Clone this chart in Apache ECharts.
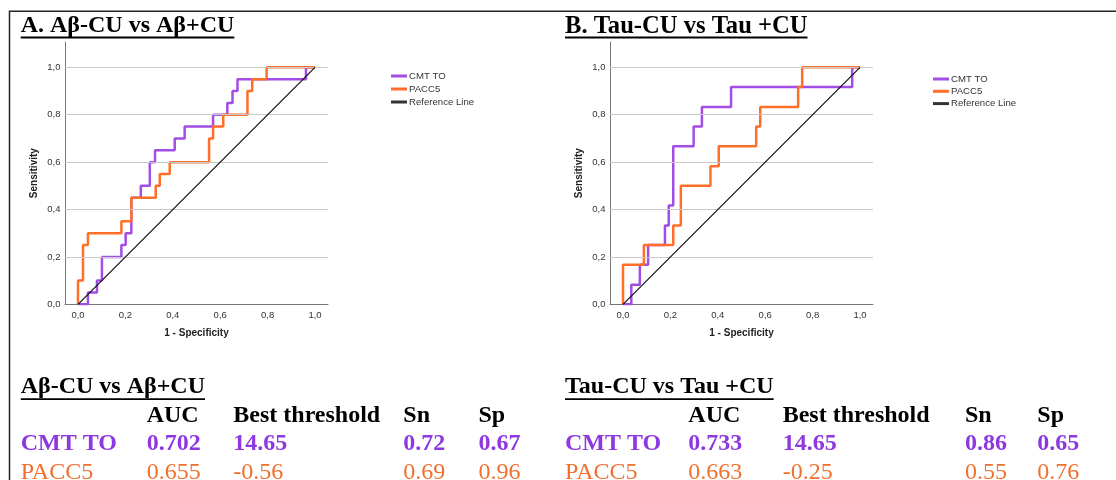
<!DOCTYPE html>
<html>
<head>
<meta charset="utf-8">
<script src="https://cdn.jsdelivr.net/npm/echarts@6/dist/echarts.min.js"></script>
<style>
html,body{margin:0;padding:0;background:#fff;}
#chart{width:1116px;height:480px;}
</style>
</head>
<body>
<div id="chart"></div>
<script>
// ---- data ----
const tickValues = [0, 0.2, 0.4, 0.6, 0.8, 1.0];
const gridValues = [0.2, 0.4, 0.6, 0.8, 1.0];
const seriesNames = ['CMT TO', 'PACC5', 'Reference Line'];

// Panel A: Aβ-CU vs Aβ+CU (ROC operating points: 1-specificity, sensitivity)
const cmtA_fpr = [0, 0.042, 0.080, 0.101, 0.183, 0.201, 0.225, 0.265, 0.303, 0.325, 0.408, 0.450, 0.570, 0.630, 0.652, 0.673, 0.962, 1.0];
const cmtA_tpr = [0, 0.05, 0.10, 0.20, 0.25, 0.30, 0.45, 0.50, 0.60, 0.65, 0.70, 0.75, 0.80, 0.85, 0.90, 0.95, 1.0, 1.0];
const paccA_fpr = [0, 0, 0.021, 0.042, 0.183, 0.225, 0.328, 0.345, 0.387, 0.553, 0.570, 0.613, 0.715, 0.735, 0.796, 1.0];
const paccA_tpr = [0, 0.10, 0.25, 0.30, 0.35, 0.45, 0.50, 0.55, 0.60, 0.70, 0.75, 0.80, 0.90, 0.95, 1.0, 1.0];

// Panel B: Tau-CU vs Tau +CU
const cmtB_fpr = [0, 0.035, 0.071, 0.106, 0.177, 0.193, 0.212, 0.298, 0.333, 0.456, 0.967, 1.0];
const cmtB_tpr = [0, 0.083, 0.167, 0.25, 0.333, 0.417, 0.667, 0.75, 0.833, 0.917, 1.0, 1.0];
const paccB_fpr = [0, 0, 0.088, 0.212, 0.244, 0.369, 0.404, 0.562, 0.579, 0.739, 0.756, 1.0];
const paccB_tpr = [0, 0.167, 0.25, 0.333, 0.50, 0.583, 0.667, 0.75, 0.833, 0.917, 1.0, 1.0];

const refLine = [[0, 0], [1, 1]];

// Titles and tables
const titleA = 'A. Aβ-CU vs Aβ+CU';
const titleB = 'B. Tau-CU vs Tau +CU';
const tableHeadA = 'Aβ-CU vs Aβ+CU';
const tableHeadB = 'Tau-CU vs Tau +CU';
const tableCols = ['AUC', 'Best threshold', 'Sn', 'Sp'];
const rowNames = ['CMT TO', 'PACC5'];
const tableA_cmt = ['0.702', '14.65', '0.72', '0.67'];
const tableA_pacc = ['0.655', '-0.56', '0.69', '0.96'];
const tableB_cmt = ['0.733', '14.65', '0.86', '0.65'];
const tableB_pacc = ['0.663', '-0.25', '0.55', '0.76'];

// ---- styling / layout ----
const PURPLE = '#A24DE6';
const ORANGE = '#FF6F2A';
const PURPLE_TXT = '#8D38E0';
const ORANGE_TXT = '#F0702E';
const SERIF = '"Liberation Serif","Times New Roman",serif';
const SANS = '"Liberation Sans",Arial,sans-serif';

const zip = (a, b) => a.map((v, i) => [v, b[i]]);
const fmt = v => v.toFixed(1).replace('.', ',');

const gridTop = 42, gridH = 262.3, gridW = 263;
const grids = [
  { left: 65, top: gridTop, width: gridW, height: gridH },
  { left: 610, top: gridTop, width: gridW, height: gridH }
];

function xAx(i) {
  return {
    type: 'value', gridIndex: i, min: -0.0549, max: 1.0549,
    name: '1 - Specificity', nameLocation: 'middle', nameGap: 24,
    nameTextStyle: { fontFamily: SANS, fontWeight: 'bold', fontSize: 10, color: '#222' },
    axisLine: { show: true, lineStyle: { color: '#777', width: 1 } },
    axisTick: { show: false },
    splitLine: { show: false },
    axisLabel: { customValues: tickValues, formatter: fmt, fontFamily: SANS, fontSize: 9.5, color: '#333', margin: 6 }
  };
}
function yAx(i) {
  return {
    type: 'value', gridIndex: i, min: 0, max: 1.107,
    name: 'Sensitivity', nameLocation: 'middle', nameGap: 26, nameRotate: 90,
    nameTextStyle: { fontFamily: SANS, fontWeight: 'bold', fontSize: 10, color: '#222' },
    axisLine: { show: true, onZero: false, lineStyle: { color: '#777', width: 1 } },
    axisTick: { show: false },
    splitLine: { show: false },
    axisLabel: { customValues: tickValues, formatter: fmt, fontFamily: SANS, fontSize: 9.5, color: '#333', margin: 4.5 }
  };
}

function panelSeries(i, cmt, pacc) {
  return [
    {
      name: 'gridlines' + i, type: 'line', xAxisIndex: i, yAxisIndex: i, data: [], z: 1, silent: true,
      markLine: {
        silent: true, symbol: 'none', label: { show: false }, animation: false,
        lineStyle: { color: '#c9c9c9', width: 1, type: 'solid' },
        data: gridValues.map(v => ({ yAxis: v }))
      }
    },
    {
      name: seriesNames[0], type: 'line', xAxisIndex: i, yAxisIndex: i, data: cmt, step: 'end',
      showSymbol: false, z: 3, color: PURPLE,
      lineStyle: { color: PURPLE, width: 2.5 }, itemStyle: { color: PURPLE }
    },
    {
      name: seriesNames[1], type: 'line', xAxisIndex: i, yAxisIndex: i, data: pacc, step: 'end',
      showSymbol: false, z: 4, color: ORANGE,
      lineStyle: { color: ORANGE, width: 2.5 }, itemStyle: { color: ORANGE }
    },
    {
      name: seriesNames[2], type: 'line', xAxisIndex: i, yAxisIndex: i, data: refLine,
      showSymbol: false, z: 5, color: '#111',
      lineStyle: { color: '#111', width: 1.2 }, itemStyle: { color: '#333' }
    }
  ];
}

function legendAt(left, top, gap) {
  return {
    data: seriesNames, orient: 'vertical', left: left, top: top, padding: 0,
    icon: 'rect', itemWidth: 16, itemHeight: 3, itemGap: gap,
    selectedMode: false,
    textStyle: { fontFamily: SANS, fontSize: 9.6, color: '#333', lineHeight: 12, padding: [0, 0, 0, -3] }
  };
}

// text measurement for underlines
const mctx = document.createElement('canvas').getContext('2d');
function textW(s, size, weight, family) {
  mctx.font = weight + ' ' + size + 'px ' + family;
  return mctx.measureText(s).width;
}

function txt(x, y, s, size, weight, color, family) {
  return {
    type: 'text', x: x, y: y, silent: true,
    style: { text: s, fontSize: size, fontWeight: weight, fontFamily: family || SERIF, fill: color, align: 'left', verticalAlign: 'middle' }
  };
}
function underline(x, y, s, size, thick) {
  return { type: 'rect', silent: true, shape: { x: x, y: y, width: textW(s, size, 'bold', SERIF), height: thick }, style: { fill: '#000' } };
}

function table(labelX, colX, head, cmt, pacc) {
  const out = [];
  out.push(txt(labelX, 387, head, 24, 'bold', '#000'));
  out.push(underline(labelX, 398.3, head, 24, 1.8));
  tableCols.forEach((c, j) => out.push(txt(colX[j], 416.2, c, 24, 'bold', '#000')));
  out.push(txt(labelX, 444.2, rowNames[0], 24, 'bold', PURPLE_TXT));
  cmt.forEach((c, j) => out.push(txt(colX[j], 444.2, c, 24, 'bold', PURPLE_TXT)));
  out.push(txt(labelX, 473, rowNames[1], 24, 'normal', ORANGE_TXT));
  pacc.forEach((c, j) => out.push(txt(colX[j], 473, c, 24, 'normal', ORANGE_TXT)));
  return out;
}

const graphics = [
  { type: 'polyline', silent: true, shape: { points: [[9.5, 480], [9.5, 11.2], [1116, 11.2]] }, style: { stroke: '#222', lineWidth: 1.5, fill: null } },
  txt(20.7, 26.2, titleA, 24, 'bold', '#000'),
  underline(20.7, 36.6, titleA, 24, 2),
  txt(565, 26.2, titleB, 24.6, 'bold', '#000'),
  underline(565, 36.6, titleB, 24.6, 2)
].concat(
  table(20.7, [146.7, 233.3, 403.3, 478.5], tableHeadA, tableA_cmt, tableA_pacc),
  table(565, [688.3, 782.7, 965, 1037.3], tableHeadB, tableB_cmt, tableB_pacc)
);

const chart = echarts.init(document.getElementById('chart'), null, { renderer: 'canvas' });
chart.setOption({
  animation: false,
  backgroundColor: '#fff',
  grid: grids,
  xAxis: [xAx(0), xAx(1)],
  yAxis: [yAx(0), yAx(1)],
  legend: [legendAt(391, 70, 1), legendAt(933, 73, 0.3)],
  series: panelSeries(0, zip(cmtA_fpr, cmtA_tpr), zip(paccA_fpr, paccA_tpr))
    .concat(panelSeries(1, zip(cmtB_fpr, cmtB_tpr), zip(paccB_fpr, paccB_tpr))),
  graphic: graphics
});
</script>
</body>
</html>
